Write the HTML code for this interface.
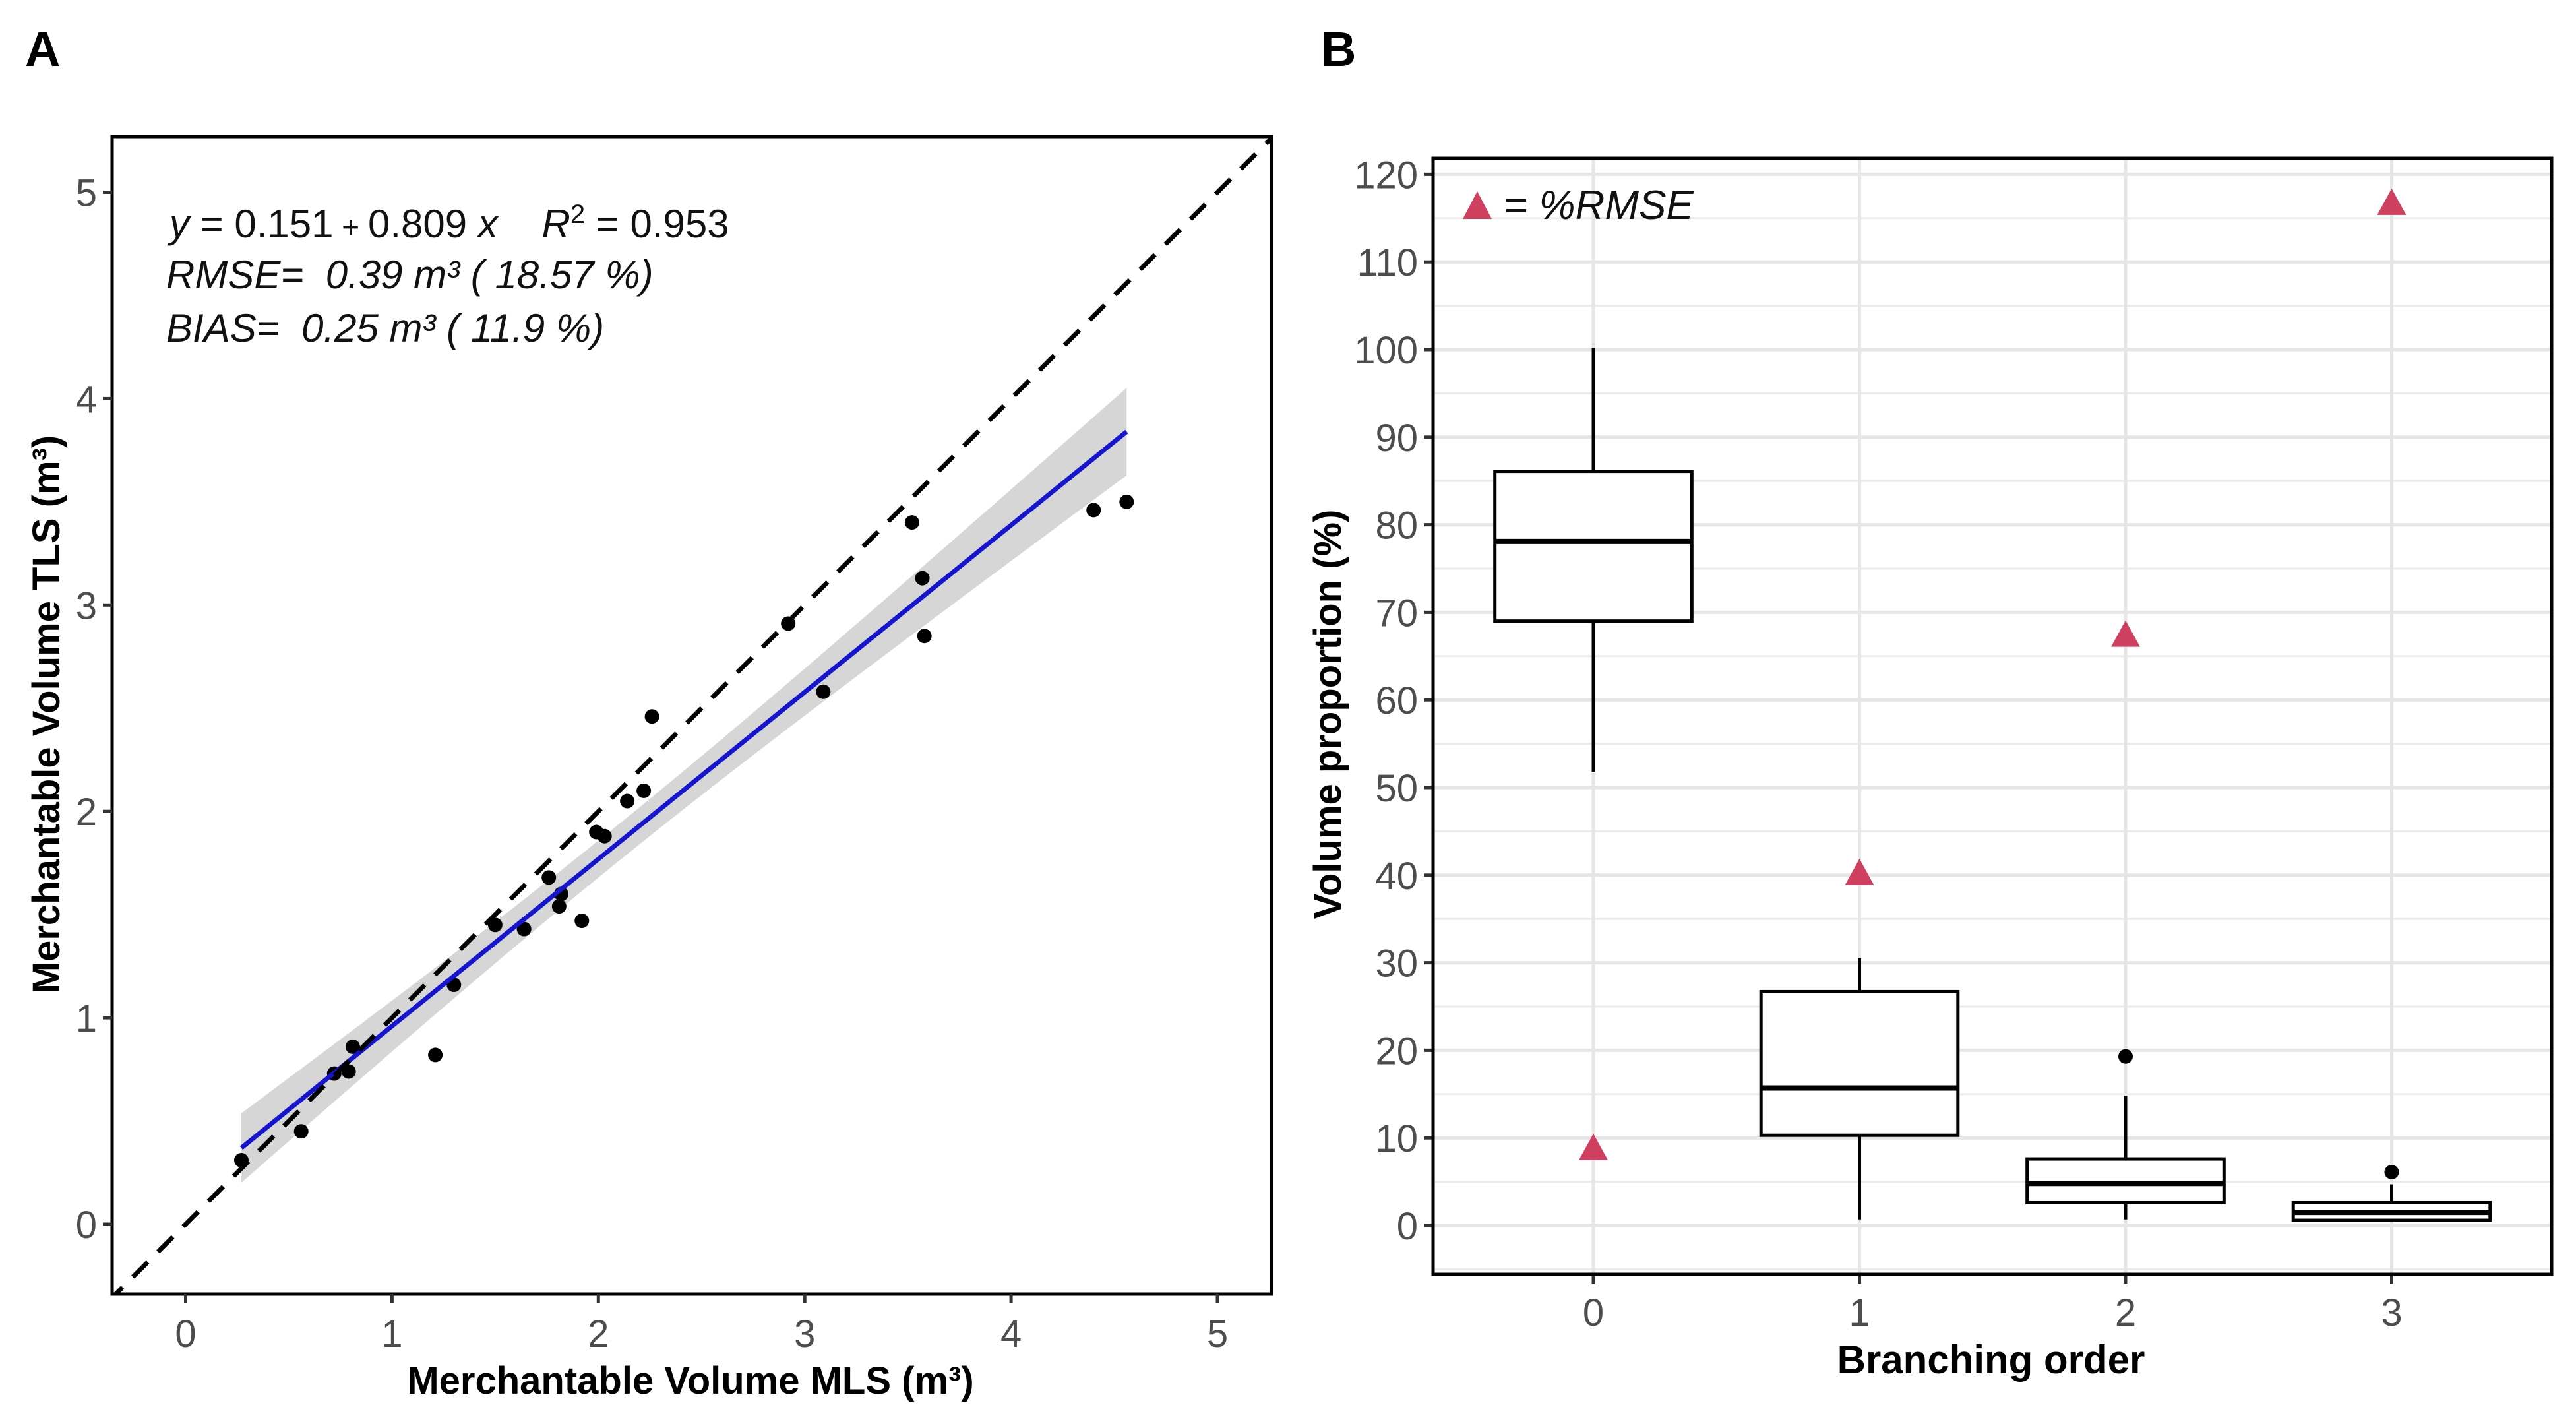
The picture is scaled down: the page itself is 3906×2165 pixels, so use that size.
<!DOCTYPE html>
<html><head><meta charset="utf-8"><style>
html,body{margin:0;padding:0;background:#fff;}
svg{display:block;font-family:"Liberation Sans",Arial,sans-serif;}
text{white-space:pre;}
</style></head><body>
<svg id="fig" width="3906" height="2165" viewBox="0 0 3906 2165" xmlns="http://www.w3.org/2000/svg">
<rect width="3906" height="2165" fill="#fff"/>
<g id="panelA"></g>
<g id="panelB"></g>
</svg>
<script>
// ---------- Panel A data ----------
const mlsVolume = [0.27,0.56,0.72,0.79,0.81,1.21,1.30,1.50,1.64,1.76,1.81,1.82,1.92,1.99,2.03,2.14,2.22,2.26,2.92,3.09,3.52,3.57,3.58,4.40,4.56];
const tlsVolume = [0.31,0.45,0.73,0.74,0.86,0.82,1.16,1.45,1.43,1.68,1.54,1.60,1.47,1.90,1.88,2.05,2.10,2.46,2.91,2.58,3.40,3.13,2.85,3.46,3.50];
const fitIntercept = 0.151;
const fitSlope = 0.809;
const axisTicksA = [0,1,2,3,4,5];

// ---------- Panel B data ----------
const branchOrders = ["0","1","2","3"];
const whiskerLow = [51.8,0.7,0.7,0.4];
const quart1 = [69,10.3,2.6,0.6];
const medians = [78.1,15.7,4.8,1.5];
const quart3 = [86.1,26.7,7.6,2.6];
const whiskerHigh = [100.2,30.5,14.8,4.7];
const outliers = [[],[],[19.3],[6.1]];
const rmsePct = [8.9,40.3,67.5,116.8];
const yTicksB = [0,10,20,30,40,50,60,70,80,90,100,110,120];

const NS = "http://www.w3.org/2000/svg";
function mk(parent, tag, attrs, text){
  const e = document.createElementNS(NS, tag);
  for (const k in attrs) e.setAttribute(k, attrs[k]);
  if (text !== undefined) e.textContent = text;
  parent.appendChild(e);
  return e;
}

// ================= Panel A =================
(function(){
  const g = document.getElementById('panelA');
  const L=170, T=207, R=1928, B=1962;
  const x0=281.5, y0=1856, u=312.9;
  const sx = v => x0 + v*u;
  const sy = v => y0 - v*u;

  const n = mlsVolume.length;
  const xm = mlsVolume.reduce((a,b)=>a+b,0)/n;
  let sxx=0, sse=0;
  for (let i=0;i<n;i++){ sxx += (mlsVolume[i]-xm)**2; const r = tlsVolume[i]-(fitIntercept+fitSlope*mlsVolume[i]); sse += r*r; }
  const s = Math.sqrt(sse/(n-2));
  const xmin = Math.min(...mlsVolume), xmax = Math.max(...mlsVolume);
  const up=[], lo=[];
  for (let k=0;k<=60;k++){
    const xv = xmin + (xmax-xmin)*k/60;
    const yv = fitIntercept + fitSlope*xv;
    const h = 2.07*s*Math.sqrt(1/n + (xv-xm)**2/sxx);
    up.push(sx(xv).toFixed(1)+','+sy(yv+h).toFixed(1));
    lo.unshift(sx(xv).toFixed(1)+','+sy(yv-h).toFixed(1));
  }
  const band = mk(g,'polygon',{points:up.concat(lo).join(' '),fill:'#999',opacity:'0.4'});
  
  

  for (let i=0;i<n;i++){
    const c = mk(g,'circle',{cx:sx(mlsVolume[i]),cy:sy(tlsVolume[i]),r:11,fill:'#000'});
    
    
  }
  const fl = mk(g,'line',{x1:sx(xmin),y1:sy(fitIntercept+fitSlope*xmin),x2:sx(xmax),y2:sy(fitIntercept+fitSlope*xmax),stroke:'#1515d0','stroke-width':7});
  
  

  const cp = mk(g,'clipPath',{id:'clipA'});
  mk(cp,'rect',{x:L,y:T,width:R-L,height:B-T});
  const dl = mk(g,'line',{x1:sx(-0.5),y1:sy(-0.5),x2:sx(5.5),y2:sy(5.5),stroke:'#000','stroke-width':7,'stroke-dasharray':'32 22','clip-path':'url(#clipA)'});
  
  

  const fr = mk(g,'rect',{x:L,y:T,width:R-L,height:B-T,fill:'none',stroke:'#000','stroke-width':5});
  
  

  axisTicksA.forEach(v=>{
    mk(g,'line',{x1:sx(v),y1:B,x2:sx(v),y2:B+14,stroke:'#333','stroke-width':5});
    const tx = mk(g,'text',{x:sx(v),y:2042,'font-size':58,fill:'#4d4d4d','text-anchor':'middle'},String(v));
    
    
    mk(g,'line',{x1:L-14,y1:sy(v),x2:L,y2:sy(v),stroke:'#333','stroke-width':5});
    const ty = mk(g,'text',{x:147,y:sy(v)+21,'font-size':58,fill:'#4d4d4d','text-anchor':'end'},String(v));
    
    
  });
})();
</script>
<svg style="position:absolute;left:0;top:0" width="3906" height="2165" viewBox="0 0 3906 2165" xmlns="http://www.w3.org/2000/svg" font-family="Liberation Sans, Arial, sans-serif">
<text x="38" y="100" font-size="74" font-weight="bold">A</text>
<text x="2003" y="100" font-size="74" font-weight="bold">B</text>
<text x="257" y="360" font-size="60" fill="#111"><tspan font-style="italic">y</tspan> = 0.151<tspan font-size="46"> + </tspan>0.809 <tspan font-style="italic">x</tspan>    <tspan font-style="italic">R</tspan><tspan dy="-22" font-size="40">2</tspan><tspan dy="22"> = 0.953</tspan></text>
<text x="252" y="437" font-size="60" font-style="italic" fill="#111">RMSE=  0.39 m³ ( 18.57 %)</text>
<text x="252" y="518" font-size="60" font-style="italic" fill="#111">BIAS=  0.25 m³ ( 11.9 %)</text>
<text x="1047" y="2113" font-size="58" font-weight="bold" text-anchor="middle">Merchantable Volume MLS (m³)</text>
<text transform="translate(90,1083) rotate(-90)" font-size="58" font-weight="bold" text-anchor="middle">Merchantable Volume TLS (m³)</text>
<text x="3019" y="2082" font-size="60" font-weight="bold" text-anchor="middle">Branching order</text>
<text transform="translate(2033,1083) rotate(-90)" font-size="58" font-weight="bold" text-anchor="middle">Volume proportion (%)</text>
<g id="panelB2"></g>
</svg>
<script>
(function(){
  document.body.style.position='relative';
  const g = document.getElementById('panelB2');
  const L=2173, T=240, R=3869, B=1932;
  const cx0=2416, cstep=403.5, y0=1858, u=13.28;
  const sx = i => cx0 + i*cstep;
  const sy = v => y0 - v*u;
  for (let v=-5; v<=125; v+=10){
    const y=sy(v); if (y<T||y>B) continue;
    mk(g,'line',{x1:L,y1:y,x2:R,y2:y,stroke:'#ebebeb','stroke-width':3});
  }
  yTicksB.forEach(v=>{
    const gl = mk(g,'line',{x1:L,y1:sy(v),x2:R,y2:sy(v),stroke:'#e6e6e6','stroke-width':5});
    
    
  });
  branchOrders.forEach((c,i)=>{
    mk(g,'line',{x1:sx(i),y1:T,x2:sx(i),y2:B,stroke:'#e6e6e6','stroke-width':5});
  });
  const hw = 0.37*cstep;
  branchOrders.forEach((c,i)=>{
    const x=sx(i);
    const w1 = mk(g,'line',{x1:x,y1:sy(whiskerLow[i]),x2:x,y2:sy(quart1[i]),stroke:'#000','stroke-width':5});
    
    
    const w2 = mk(g,'line',{x1:x,y1:sy(quart3[i]),x2:x,y2:sy(whiskerHigh[i]),stroke:'#000','stroke-width':5});
    
    
    const bx = mk(g,'rect',{x:x-hw,y:sy(quart3[i]),width:2*hw,height:sy(quart1[i])-sy(quart3[i]),fill:'#fff',stroke:'#000','stroke-width':5});
    
    
    const md = mk(g,'line',{x1:x-hw,y1:sy(medians[i]),x2:x+hw,y2:sy(medians[i]),stroke:'#000','stroke-width':8});
    
    
    outliers[i].forEach(o=>{
      const oc = mk(g,'circle',{cx:x,cy:sy(o),r:11,fill:'#000'});
      
      
    });
    const yy = sy(rmsePct[i]);
    const tr = mk(g,'polygon',{points:`${x},${yy-21} ${x-22},${yy+19} ${x+22},${yy+19}`,fill:'#cf4060'});
    
    
    mk(g,'line',{x1:x,y1:B,x2:x,y2:B+14,stroke:'#333','stroke-width':5});
    const tl = mk(g,'text',{x:x,y:2010,'font-size':58,fill:'#4d4d4d','text-anchor':'middle'},c);
    
    
  });
  yTicksB.forEach(v=>{
    mk(g,'line',{x1:L-14,y1:sy(v),x2:L,y2:sy(v),stroke:'#333','stroke-width':5});
    const t = mk(g,'text',{x:2150,y:sy(v)+21,'font-size':58,fill:'#4d4d4d','text-anchor':'end'},String(v));
    
    
  });
  const fr = mk(g,'rect',{x:L,y:T,width:R-L,height:B-T,fill:'none',stroke:'#000','stroke-width':5});
  
  
  const lt = mk(g,'polygon',{points:'2240,290 2218,332 2262,332',fill:'#cf4060'});
  
  
  const lx = mk(g,'text',{x:2280,y:332,'font-size':62,'font-style':'italic',fill:'#111'},'= %RMSE');
  
  
})();
</script>
</body></html>
